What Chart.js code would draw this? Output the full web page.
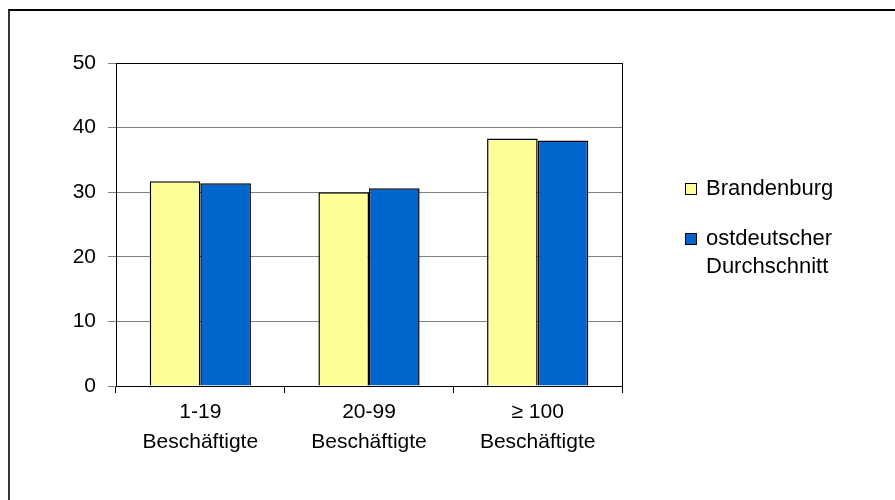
<!DOCTYPE html>
<html>
<head>
<meta charset="utf-8">
<script src="https://cdn.jsdelivr.net/npm/chart.js@4/dist/chart.umd.min.js"></script>
<style>
  html, body { margin: 0; padding: 0; background: #fff; }
  #wrap { position: relative; width: 895px; height: 500px; overflow: hidden; }
  #frame { position: absolute; left: 8px; top: 9px; width: 900px; height: 500px;
           border-top: 2px solid #000; border-left: 2px solid #333; }
  #legend { position: absolute; left: 683px; top: 174px; font-family: "Liberation Sans", Arial, sans-serif;
            font-size: 22px; color: #000; }
  .item { position: relative; padding-left: 23px; line-height: 28px; margin-bottom: 22px; }
  .box { position: absolute; left: 2px; top: 9px; width: 10px; height: 10px; border: 1.5px solid #000; }
</style>
</head>
<body>
<div id="wrap">
  <div id="frame"></div>
  <canvas id="chart" width="895" height="500"></canvas>
  <div id="legend"></div>
</div>
<script>
const categories = [['1-19', 'Beschäftigte'], ['20-99', 'Beschäftigte'], ['\u2265 100', 'Beschäftigte']];
const brandenburg = [31.7, 30.0, 38.3];
const ostdeutsch = [31.4, 30.6, 38.0];
const seriesNames = [['Brandenburg'], ['ostdeutscher', 'Durchschnitt']];
const seriesColors = ['#FFFF99', '#0066CC'];
const yTicks = [0, 10, 20, 30, 40, 50];

const font = { family: '"Liberation Sans", Arial, sans-serif', size: 21 };

// rahmen um den plotbereich
const framePlugin = {
    id: 'plotFrame',
    beforeDatasetsDraw(chart) {
        const a = chart.chartArea;
        const ctx = chart.ctx;
        ctx.save();
        ctx.strokeStyle = '#000';
        ctx.lineWidth = 1;
        ctx.strokeRect(Math.round(a.left) + 0.5, Math.round(a.top) + 0.5,
            Math.round(a.right - a.left), Math.round(a.bottom - a.top));
        ctx.restore();
    }
};

const ctx = document.getElementById('chart').getContext('2d');
const chart = new Chart(ctx, {
    type: 'bar',
    data: {
        labels: categories,
        datasets: [
            { label: seriesNames[0].join(' '), data: brandenburg, backgroundColor: seriesColors[0],
              borderColor: '#000', borderWidth: 1.5 },
            { label: seriesNames[1].join(' '), data: ostdeutsch, backgroundColor: seriesColors[1],
              borderColor: '#000', borderWidth: 1.5 }
        ]
    },
    options: {
        responsive: false,
        animation: false,
        layout: { padding: { left: 56, top: 63, right: 273, bottom: 14 } },
        plugins: { legend: { display: false }, tooltip: { enabled: false } },
        datasets: { bar: { categoryPercentage: 0.6, barPercentage: 1.0 } },
        scales: {
            x: {
                offset: true,
                grid: { offset: true, drawOnChartArea: false, drawTicks: true, tickLength: 7, color: '#000' },
                border: { color: '#000', width: 1 },
                ticks: { color: '#000', font: { ...font, lineHeight: 1.4 }, padding: 5, maxRotation: 0 },
                afterFit(scale) { scale.height = 100; }
            },
            y: {
                min: 0, max: 50,
                afterBuildTicks(scale) { scale.ticks = yTicks.map(v => ({ value: v })); },
                grid: { color: '#808080', tickLength: 8, tickColor: '#808080' },
                border: { color: '#000', width: 1 },
                ticks: { color: '#000', font: font, padding: 12 },
                afterFit(scale) { scale.width = 60; }
            }
        }
    },
    plugins: [framePlugin]
});

// legende als html
const legend = document.getElementById('legend');
seriesNames.forEach(function(lines, i) {
    const item = document.createElement('div');
    item.className = 'item';
    const box = document.createElement('div');
    box.className = 'box';
    box.style.backgroundColor = seriesColors[i];
    item.appendChild(box);
    item.insertAdjacentHTML('beforeend', lines.join('<br>'));
    legend.appendChild(item);
});
</script>
</body>
</html>
